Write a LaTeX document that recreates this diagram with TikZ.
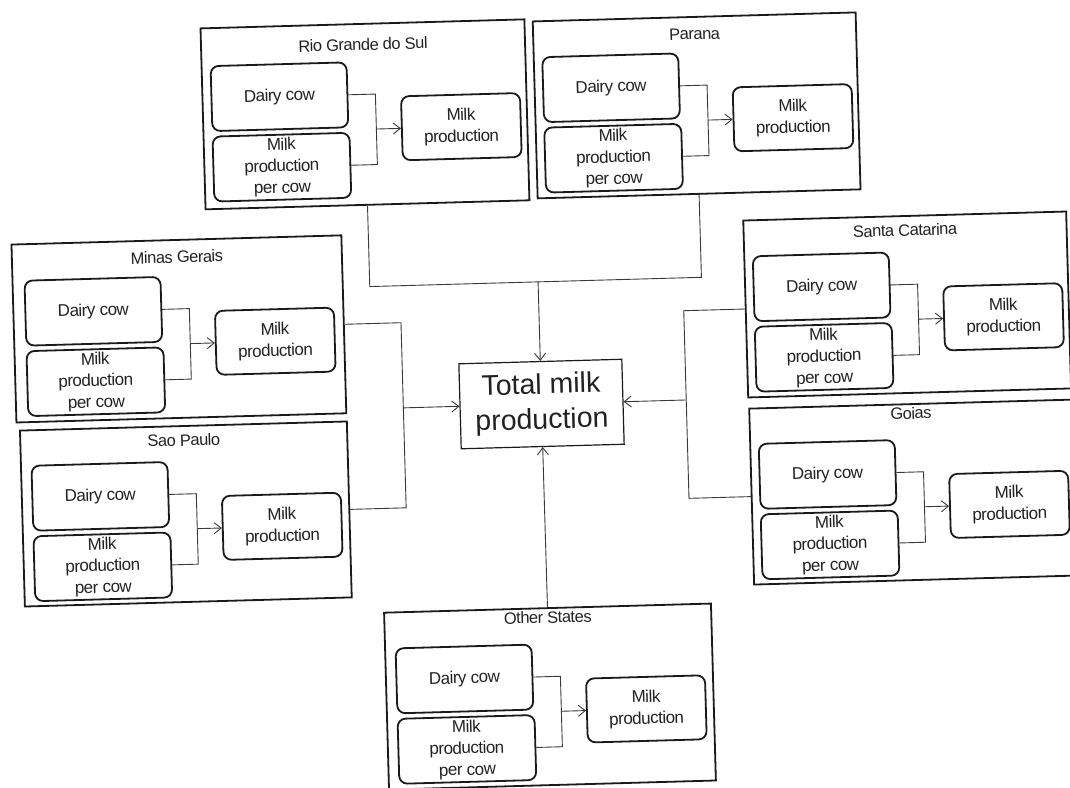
\documentclass[tikz,border=0pt]{standalone}
\usepackage{fontspec}
\setmainfont{Liberation Sans}
\newfontfamily\tightsans[LetterSpace=-3]{Liberation Sans}
\usetikzlibrary{arrows.meta}
\definecolor{ink}{HTML}{1A1A1A}
\definecolor{txt}{HTML}{222222}
\definecolor{wire}{HTML}{3A3A3A}
\tikzset{
  outerbox/.style={draw=ink, line width=1.8pt, rectangle, inner sep=0pt},
  inbox/.style={draw=ink, line width=1.8pt, rectangle, rounded corners=8pt, align=center,
    inner sep=1pt, text=txt, font=\tightsans\fontsize{17}{21.5}\selectfont},
  ttl/.style={text=txt, inner sep=0pt, font=\tightsans\fontsize{16.5}{19}\selectfont},
  totalbox/.style={draw=ink, line width=1.2pt, rectangle, align=center, inner sep=2pt,
    minimum width=163pt, minimum height=85pt, text=txt, font=\fontsize{28.5}{35}\selectfont},
  conn/.style={draw=wire, line width=0.9pt},
  arr/.style={-{Straight Barb[length=7pt,width=11pt]}}
}
\newcommand\stblock[7]{%
  \node[outerbox, minimum width=#4pt, minimum height=#5pt] (#1) at (#2,#3) {};
  \node[ttl] (#1t) at (#2,{#3+#6}) {#7};
  \node[inbox, minimum width=136pt, minimum height=65pt] (#1d) at ({#2-85},{#3-20}) {Dairy cow};
  \node[inbox, minimum width=137pt, minimum height=65pt] (#1c) at ({#2-84.5},{#3+50.5}) {Milk\\production\\per cow};
  \node[inbox, minimum width=119pt, minimum height=64pt] (#1m) at ({#2+96},{#3+15}) {Milk\\production};
  \coordinate (#1a) at ({#2+11},{#3-20});
  \coordinate (#1b) at ({#2+11},{#3+50.5});
  \coordinate (#1o) at ({#2+11},{#3+15});
  \draw[conn] (#1d.east) -- (#1a) -- (#1b) -- (#1c.east);
  \draw[conn,arr] (#1o) -- (#1m.west);
}
\begin{document}
\begin{tikzpicture}[x=1pt,y=-1pt]
\useasboundingbox[fill=white] (0,0) rectangle (1070,787);
\begin{scope}[rotate around={1.6:(535,393)}, transform shape]
\stblock{rgs}{372.8}{109.7}{324}{181}{-70}{Rio Grande do Sul}
\stblock{par}{704.6}{110}{323}{177}{-71.5}{Parana}
\stblock{mg}{180.8}{319}{330}{178}{-72}{Minas Gerais}
\stblock{sp}{182.6}{504.2}{327}{176}{-74}{Sao Paulo}
\stblock{sc}{909.5}{314.9}{323}{177}{-74.5}{Santa Catarina}
\stblock{go}{910.2}{502.6}{323}{176}{-79}{Goias}
\stblock{os}{541.5}{696.9}{327}{177}{-79.5}{Other States}

\node[totalbox] (tot) at (541.2,404.2) {Total milk\\production};

\coordinate (tl) at (372.8,282);
\coordinate (tr) at (704.6,282);
\coordinate (tm) at (541.2,282);
\draw[conn] (rgs.south) -- (tl) -- (tr) -- (par.south);
\draw[conn,arr] (tm) -- (tot.north);

\coordinate (l1) at (403,319);
\coordinate (l2) at (403,504.2);
\coordinate (lm) at (403,404.2);
\draw[conn] (mg.east) -- (l1) -- (l2) -- (sp.east);
\draw[conn,arr] (lm) -- (tot.west);

\coordinate (r1) at (686,314.9);
\coordinate (r2) at (686,502.6);
\coordinate (rm) at (686,404.2);
\draw[conn] (sc.west) -- (r1) -- (r2) -- (go.west);
\draw[conn,arr] (rm) -- (tot.east);

\draw[conn,arr] (os.north) -- (tot.south);
\end{scope}
\end{tikzpicture}
\end{document}
